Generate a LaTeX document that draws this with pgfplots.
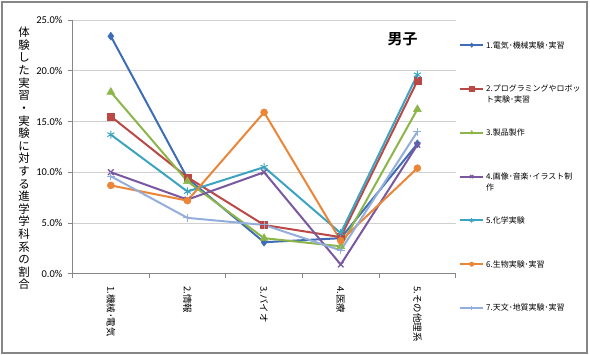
\documentclass[border=0pt]{standalone}
\usepackage{pgfplots}
\pgfplotsset{compat=1.18}
\usepackage{fontspec}
\setmainfont{Carlito}
\newfontfamily\jp[BoldFont={Noto Sans CJK JP Bold}]{Noto Sans CJK JP}
\definecolor{c1}{HTML}{3E6DB5}
\definecolor{c2}{HTML}{BA4845}
\definecolor{c3}{HTML}{8CB64A}
\definecolor{c4}{HTML}{7A58A0}
\definecolor{c5}{HTML}{3CA4C0}
\definecolor{c6}{HTML}{EB8538}
\definecolor{c7}{HTML}{93AEDA}
\definecolor{axgray}{HTML}{868686}
\definecolor{gridgray}{HTML}{D0D0D0}
\begin{document}
\begin{tikzpicture}
\path[use as bounding box] (0,0) rectangle (590bp,355bp);
\draw[axgray, line width=1.2bp] (2bp,2bp) rectangle (587bp,353bp);
\begin{axis}[
  at={(72.5bp,81.3bp)}, anchor=south west, scale only axis,
  width=383.2bp, height=253.7bp,
  xmin=0.5, xmax=5.5, ymin=0, ymax=25,
  axis x line*=bottom, axis y line*=left,
  axis line style={axgray, line width=0.75bp},
  tick align=outside, major tick length=4.5bp,
  tick style={axgray, line width=0.75bp},
  xtick={0.5,1.5,2.5,3.5,4.5,5.5}, xticklabels={{},{},{},{},{},{}},
  extra x ticks={1,2,3,4,5},
  extra x tick labels={1.機械･電気,2.情報,3.バイオ,4.医療,5.その他理系},
  extra x tick style={tick style={draw=none},
     xticklabel style={rotate=-90, anchor=west, inner sep=0pt, font=\jp\fontsize{9.5}{11}\selectfont}},
  xticklabel shift=8bp,
  ytick={0,5,10,15,20,25},
  ymajorgrids, grid style={gridgray, line width=0.75bp},
  yticklabel={\pgfmathprintnumber[fixed,fixed zerofill,precision=1]{\tick}\%},
  yticklabel style={font=\fontsize{10.5}{12}\selectfont, inner sep=0pt, anchor=east},
  yticklabel shift=5.5bp,
  /pgf/number format/assume math mode=true,
  every axis plot/.append style={line width=2bp},
  legend cell align=left,
  legend image code/.code={\draw[mark repeat=2,mark phase=2] plot coordinates {(0bp,0bp)(11.5bp,0bp)(23bp,0bp)};},
  every legend image post/.style={mark size=2.2bp},
  legend style={at={(1.0086,0.988)}, anchor=north west, draw=none, fill=none,
     inner sep=0pt, column sep=2bp, row sep=0pt,
     font=\jp\fontsize{8}{11}\selectfont,
     nodes={inner sep=0pt, text height=24.9bp, text depth=18.9bp}},
]
\addplot[c1, mark=diamond*, mark size=4bp, mark options={fill=c1, line width=0.5bp}] coordinates {(1,23.4) (2,9.4) (3,3.1) (4,3.5) (5,12.8)};
\addlegendentry{1.電気･機械実験･実習}
\addplot[c2, mark=square*, mark size=3.5bp, mark options={fill=c2, line width=0.5bp}] coordinates {(1,15.5) (2,9.5) (3,4.8) (4,3.6) (5,19.0)};
\addlegendentry{\begin{tabular}[t]{@{}l@{}}2.プログラミングやロボッ\\ト実験･実習\end{tabular}}
\addplot[c3, mark=triangle*, mark size=4.5bp, mark options={fill=c3, line width=0.5bp}] coordinates {(1,17.9) (2,9.1) (3,3.5) (4,2.7) (5,16.2)};
\addlegendentry{3.製品製作}
\addplot[c4, mark=x, mark size=4bp, mark options={line width=1.3bp}] coordinates {(1,10.0) (2,7.3) (3,10.0) (4,0.9) (5,12.7)};
\addlegendentry{\begin{tabular}[t]{@{}l@{}}4.画像･音楽･イラスト制\\作\end{tabular}}
\addplot[c5, mark=asterisk, mark size=4bp, mark options={line width=1bp}] coordinates {(1,13.7) (2,8.1) (3,10.5) (4,4.0) (5,19.6)};
\addlegendentry{5.化学実験}
\addplot[c6, mark=*, mark size=3.5bp, mark options={fill=c6, line width=0.5bp}] coordinates {(1,8.7) (2,7.2) (3,15.9) (4,3.25) (5,10.4)};
\addlegendentry{6.生物実験･実習}
\addplot[c7, mark=+, mark size=4bp, mark options={line width=1bp}] coordinates {(1,9.6) (2,5.5) (3,4.8) (4,2.3) (5,14.0)};
\addlegendentry{7.天文･地質実験･実習}
\end{axis}
\node[font=\jp\bfseries\fontsize{15}{16}\selectfont, inner sep=0pt] at (402.5bp,316bp) {男子};
\node[anchor=north, align=center, inner sep=0pt, font=\jp\fontsize{11.5}{12.65}\selectfont] at (24bp,328bp)
 {体\\験\\し\\た\\実\\習\\・\\実\\験\\に\\対\\す\\る\\進\\学\\学\\科\\系\\の\\割\\合};
\end{tikzpicture}
\end{document}
